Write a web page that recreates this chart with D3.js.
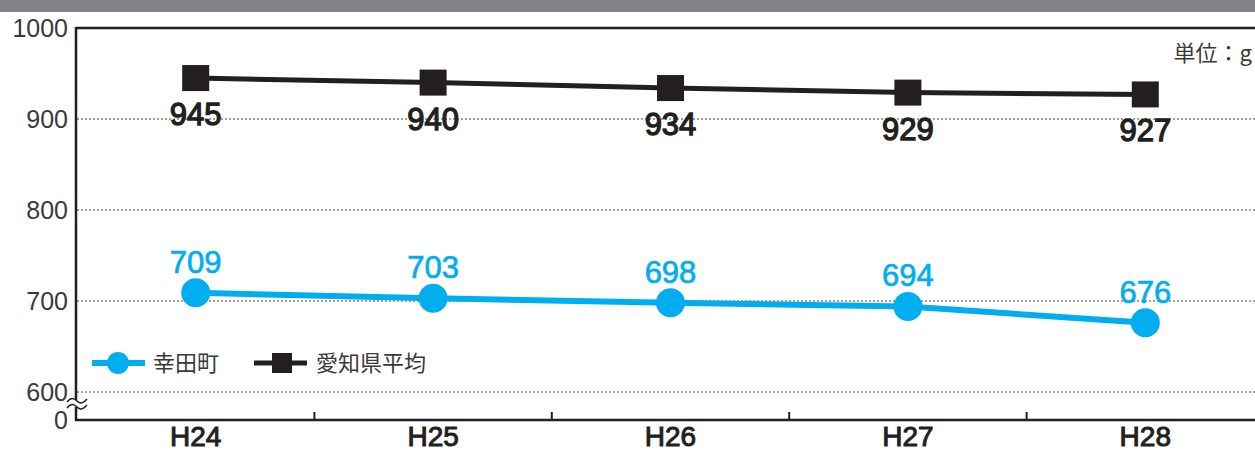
<!DOCTYPE html>
<html>
<head>
<meta charset="utf-8">
<script src="https://cdn.jsdelivr.net/npm/d3@7"></script>
<style>
  body { margin: 0; background: #fff; }
  svg { display: block; font-family: "Liberation Sans", Arial, sans-serif; }
</style>
</head>
<body>
<svg id="chart" width="1255" height="452"></svg>
<script>
// data
const years = ["H24", "H25", "H26", "H27", "H28"];
const kotaValues = [709, 703, 698, 694, 676];
const aichiValues = [945, 940, 934, 929, 927];
const yTicks = [600, 700, 800, 900, 1000];
const seriesNames = ["幸田町", "愛知県平均"];

const svg = d3.select("#chart");
const blue = "#00aeef";
const dark = "#231f20";

// top band (title bar cut off)
svg.append("rect").attr("x", 0).attr("y", 0).attr("width", 1255).attr("height", 12).attr("fill", "#838387");

const x = d3.scaleBand().domain(years).range([77, 77 + 5 * 237.4]);
const y = d3.scaleLinear().domain([600, 1000]).range([392, 28]);
const bottomY = 420;

// grid lines
svg.append("g").selectAll("line")
  .data(yTicks.filter(d => d < 1000))
  .join("line")
  .attr("x1", 77).attr("x2", 1255)
  .attr("y1", d => y(d)).attr("y2", d => y(d))
  .attr("stroke", "#444").attr("stroke-width", 1)
  .attr("stroke-dasharray", "2,2");

// frame: top, left, bottom
svg.append("line").attr("x1", 76).attr("x2", 1255).attr("y1", y(1000)).attr("y2", y(1000))
  .attr("stroke", dark).attr("stroke-width", 2.5);
svg.append("line").attr("x1", 76).attr("x2", 76).attr("y1", y(1000) - 1).attr("y2", bottomY + 1)
  .attr("stroke", dark).attr("stroke-width", 2.5);
svg.append("line").attr("x1", 75).attr("x2", 1255).attr("y1", bottomY).attr("y2", bottomY)
  .attr("stroke", dark).attr("stroke-width", 2.5);

// category separators (ticks)
svg.append("g").selectAll("line")
  .data(years.slice(1))
  .join("line")
  .attr("x1", d => x(d)).attr("x2", d => x(d))
  .attr("y1", bottomY).attr("y2", bottomY - 8)
  .attr("stroke", dark).attr("stroke-width", 2);

// y tick labels
const yLab = svg.append("g")
  .attr("font-size", 25).attr("fill", "#3a3a3a").attr("text-anchor", "end");
yLab.selectAll("text")
  .data(yTicks)
  .join("text")
  .attr("x", 68)
  .attr("y", d => y(d) + 9)
  .text(d => d);
yLab.append("text").attr("x", 68).attr("y", bottomY + 9).text("0");

// axis break
svg.append("rect").attr("x", 72).attr("y", 400).attr("width", 9).attr("height", 7).attr("fill", "#fff");
[401, 407].forEach(yy => {
  svg.append("path")
    .attr("d", `M67,${yy + 1} C71,${yy - 4} 74,${yy - 3} 77,${yy} S83,${yy + 3} 87,${yy - 2}`)
    .attr("fill", "none").attr("stroke", dark).attr("stroke-width", 1.5);
});

// x labels
svg.append("g").selectAll("text")
  .data(years)
  .join("text")
  .attr("x", d => x(d) + x.bandwidth() / 2)
  .attr("y", 446)
  .attr("text-anchor", "middle")
  .attr("font-size", 28).attr("fill", dark)
  .attr("stroke", dark).attr("stroke-width", 1)
  .text(d => d);

const cx = (d, i) => x(years[i]) + x.bandwidth() / 2;
const line = d3.line().x((d, i) => cx(d, i)).y(d => y(d));

// aichi series
svg.append("path").datum(aichiValues).attr("d", line)
  .attr("fill", "none").attr("stroke", dark).attr("stroke-width", 5);
svg.append("g").selectAll("rect")
  .data(aichiValues)
  .join("rect")
  .attr("x", (d, i) => cx(d, i) - 13.5).attr("y", d => y(d) - 13)
  .attr("width", 27).attr("height", 26).attr("fill", dark);
svg.append("g").selectAll("text")
  .data(aichiValues)
  .join("text")
  .attr("x", (d, i) => cx(d, i)).attr("y", d => y(d) + 47)
  .attr("text-anchor", "middle")
  .attr("font-size", 31).attr("fill", dark)
  .attr("stroke", dark).attr("stroke-width", 1.3)
  .text(d => d);

// kota series
svg.append("path").datum(kotaValues).attr("d", line)
  .attr("fill", "none").attr("stroke", blue).attr("stroke-width", 6);
svg.append("g").selectAll("circle")
  .data(kotaValues)
  .join("circle")
  .attr("cx", (d, i) => cx(d, i)).attr("cy", d => y(d))
  .attr("r", 14.5).attr("fill", blue);
svg.append("g").selectAll("text")
  .data(kotaValues)
  .join("text")
  .attr("x", (d, i) => cx(d, i)).attr("y", d => y(d) - 20)
  .attr("text-anchor", "middle")
  .attr("font-size", 31).attr("fill", blue)
  .attr("stroke", blue).attr("stroke-width", 0.7)
  .text(d => d);

// unit
svg.append("text").attr("x", 1252).attr("y", 61).attr("text-anchor", "end")
  .attr("font-family", "'Noto Sans CJK JP', sans-serif")
  .attr("font-size", 22).attr("fill", "#3a3a3a").text("単位：g");

// legend
const lg = svg.append("g").attr("font-family", "'Noto Sans CJK JP', sans-serif")
  .attr("font-size", 22).attr("fill", "#3a3a3a");
lg.append("line").attr("x1", 92).attr("x2", 145).attr("y1", 363).attr("y2", 363)
  .attr("stroke", blue).attr("stroke-width", 6);
lg.append("circle").attr("cx", 118).attr("cy", 363).attr("r", 11).attr("fill", blue);
lg.append("text").attr("x", 153).attr("y", 371).text(seriesNames[0]);
lg.append("line").attr("x1", 254).attr("x2", 307).attr("y1", 363).attr("y2", 363)
  .attr("stroke", dark).attr("stroke-width", 5);
lg.append("rect").attr("x", 272).attr("y", 353).attr("width", 20).attr("height", 20).attr("fill", dark);
lg.append("text").attr("x", 316).attr("y", 371).text(seriesNames[1]);
</script>
</body>
</html>
